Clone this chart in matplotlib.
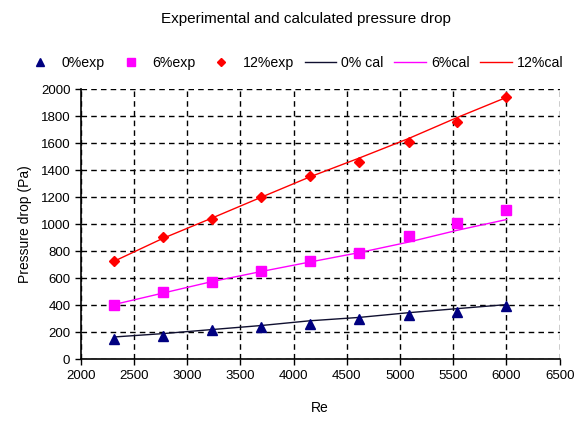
import matplotlib
matplotlib.use("Agg")
import matplotlib.pyplot as plt

re_vals = [2310, 2770, 3230, 3695, 4150, 4615, 5080, 5535, 6000]
exp_0 = [148, 170, 215, 237, 262, 299, 330, 353, 395]
exp_6 = [405, 501, 575, 654, 726, 790, 911, 1007, 1108]
exp_12 = [730, 904, 1037, 1205, 1355, 1464, 1607, 1758, 1941]
cal_0 = [165, 190, 220, 250, 285, 310, 345, 375, 405]
cal_6 = [405, 490, 575, 650, 720, 790, 868, 955, 1035]
cal_12 = [725, 895, 1045, 1200, 1350, 1490, 1635, 1790, 1940]

title = "Experimental and calculated pressure drop"
xlabel = "Re"
ylabel = "Pressure drop (Pa)"

plt.rcParams['font.family'] = ['Liberation Sans', 'DejaVu Sans']

fig = plt.figure(figsize=(5.77, 4.21), dpi=100)
ax = fig.add_axes([0.140, 0.1466, 0.830, 0.6414])

l1, = ax.plot(re_vals, cal_0, color='#101030', lw=1.0, label='0% cal')
l2, = ax.plot(re_vals, cal_6, color='#ff00ff', lw=1.0, label='6%cal')
l3, = ax.plot(re_vals, cal_12, color='#ff0000', lw=1.0, label='12%cal')
m1, = ax.plot(re_vals, exp_0, ls='none', marker='^', color='#000080', ms=7, label='0%exp')
m2, = ax.plot(re_vals, exp_6, ls='none', marker='s', color='#ff00ff', ms=6.5, label='6%exp')
m3, = ax.plot(re_vals, exp_12, ls='none', marker='D', color='#ff0000', ms=5.5, label='12%exp')

ax.set_xlim(2000, 6500)
ax.set_ylim(0, 2000)
ax.set_xticks(range(2000, 6501, 500))
ax.set_yticks(range(0, 2001, 200))
ax.grid(True, color='black', ls=(0, (4, 3)), lw=1.0)
for s in ['top', 'right']:
    ax.spines[s].set_visible(False)
for s in ['left', 'bottom']:
    ax.spines[s].set_linewidth(1.2)
ax.tick_params(labelsize=9.5, length=4, direction='out', width=1)
ax.set_xlabel(xlabel, fontsize=10, labelpad=14)
ax.set_ylabel(ylabel, fontsize=10, labelpad=6)

fig.text(0.53, 0.955, title, ha='center', va='center', fontsize=11)
fig.legend(handles=[m1, m2, m3, l1, l2, l3], loc='center', bbox_to_anchor=(0.51, 0.85),
           ncol=6, frameon=False, fontsize=10.2, handlelength=2.2, handletextpad=0.4,
           columnspacing=0.75, markerscale=0.8)

fig.savefig('out.png', dpi=100)
